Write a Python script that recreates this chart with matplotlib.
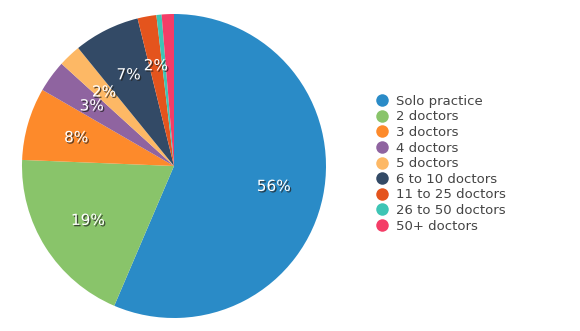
import matplotlib
matplotlib.use("Agg")
import matplotlib.pyplot as plt
import matplotlib.patheffects as pe
from matplotlib.lines import Line2D

# practice size shares (percent)
labels = ['Solo practice', '2 doctors', '3 doctors', '4 doctors', '5 doctors',
          '6 to 10 doctors', '11 to 25 doctors', '26 to 50 doctors', '50+ doctors']
shares = [56.4, 19.2, 7.7, 3.4, 2.4, 7.0, 2.0, 0.55, 1.3]
colors = ['#2a8bc7', '#89c46a', '#fd8a2b', '#8f64a0', '#fdb865',
          '#334a66', '#e4541d', '#3ec5b5', '#f43d67']

W, H = 580, 331
fig = plt.figure(figsize=(W / 100, H / 100), dpi=100)

cx, cy, r = 174, 166, 152
ax = fig.add_axes([(cx - r) / W, (H - cy - r) / H, 2 * r / W, 2 * r / H])

def pct(p):
    return '%d%%' % round(p) if p >= 1.5 else ''

wedges, texts, autotexts = ax.pie(
    shares, colors=colors, startangle=90, counterclock=False,
    autopct=pct, pctdistance=0.67, radius=1,
    wedgeprops=dict(linewidth=0),
    textprops=dict(color='white', fontsize=11, family='DejaVu Sans'))

for t in autotexts:
    t.set_path_effects([
        pe.SimplePatchShadow(offset=(1, -1), shadow_rgbFace='#222222', alpha=0.75),
        pe.Normal()])

ax.set_xlim(-1, 1)
ax.set_ylim(-1, 1)
ax.set_aspect('equal')
ax.axis('off')

handles = [Line2D([], [], marker='o', linestyle='none', markersize=9,
                  markerfacecolor=c, markeredgewidth=0) for c in colors]
fig.legend(handles, labels, loc='upper left',
           bbox_to_anchor=(369 / W, 1 - 88 / H), frameon=False,
           fontsize=9.5, labelspacing=0.2, handlelength=1.0,
           handletextpad=0.55, borderpad=0, labelcolor='#444444')

fig.savefig('out.png', dpi=100)
